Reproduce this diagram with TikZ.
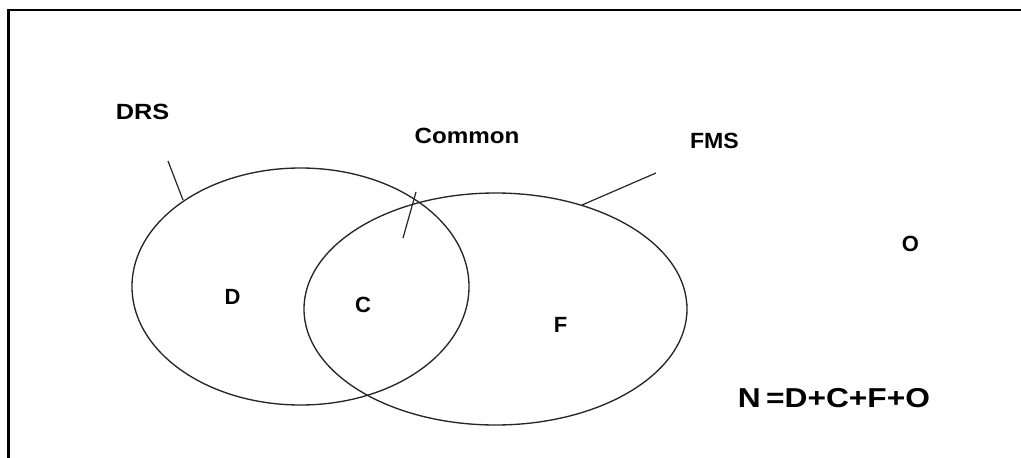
\documentclass[tikz,border=0pt]{standalone}
\usepackage{fontspec}
\setmainfont{Liberation Sans}
\begin{document}
\begin{tikzpicture}[x=0.75pt,y=-0.75pt,
  lbl/.style={font=\fontsize{16.5}{18}\selectfont\bfseries, inner sep=0pt},
  ring/.style={line width=1pt, draw=black!85},
  leader/.style={line width=0.9pt, draw=black!85}]
\useasboundingbox (0,0) rectangle (1021,457);
\clip (0,0) rectangle (1021,457);
\fill[white] (0,0) rectangle (1021,457);
\draw[line width=2pt] (8.5,10) rectangle (1060,490);
% sets
\draw[ring] (300.5,286.5) ellipse [x radius=168.5, y radius=118.5];
\draw[ring] (495.5,309) ellipse [x radius=191.5, y radius=116];
% labels
\node[lbl, xscale=1.15] (drs) at (142.5,112) {DRS};
\node[lbl, xscale=1.1] (common) at (467,136) {Common};
\node[lbl, xscale=1.05] (fms) at (714.5,141) {FMS};
\node[lbl] (o) at (910.5,243.5) {O};
\node[lbl] (d) at (232.5,296.5) {D};
\node[lbl] (c) at (363,304.5) {C};
\node[lbl] (f) at (560.5,324.5) {F};
\node[lbl, font=\fontsize{20.5}{22}\selectfont\bfseries, xscale=1.16] (eq) at (834,398.5) {N\,=D+C+F+O};
% leader lines
\coordinate (drsA) at (168,161);
\coordinate (drsB) at (183,200);
\coordinate (comA) at (416,192);
\coordinate (comB) at (403,238);
\coordinate (fmsA) at (656,173);
\coordinate (fmsB) at (582,205);
\draw[leader] (drsA) -- (drsB);
\draw[leader] (comA) -- (comB);
\draw[leader] (fmsA) -- (fmsB);
\end{tikzpicture}
\end{document}
